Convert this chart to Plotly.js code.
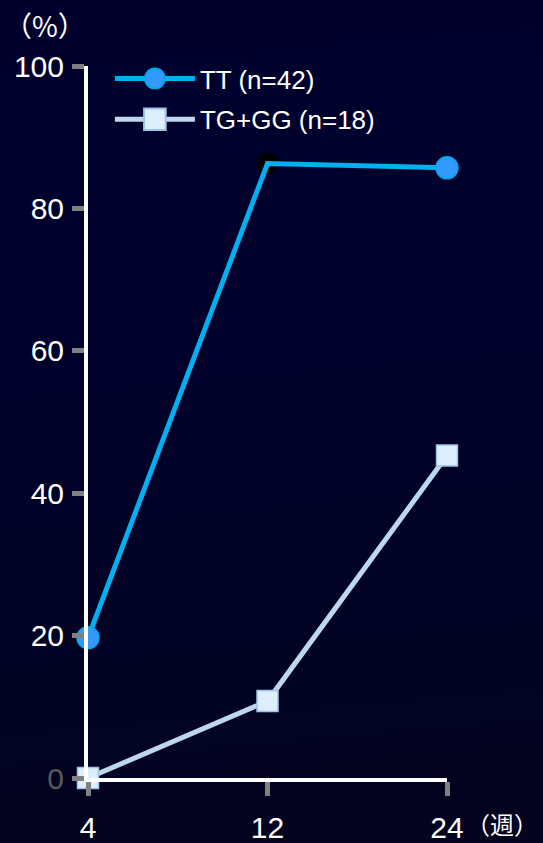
<!DOCTYPE html>
<html>
<head>
<meta charset="utf-8">
<script src="https://cdn.plot.ly/plotly-3.0.1.min.js"></script>
<style>
  html, body { margin: 0; padding: 0; }
  body {
    width: 543px; height: 843px; overflow: hidden;
    background: linear-gradient(175deg, #00002e 0%, #01012b 45%, #04041f 100%);
  }
  #chart { width: 543px; height: 843px; }
</style>
</head>
<body>
<div id="chart"></div>
<script>
// Response rate (%) by week, per genotype group
const weeks = ['4', '12', '24'];
const ttValues = [19.7, 86.3, 85.7];
const tgggValues = [0, 10.8, 45.3];
const seriesNames = ['TT (n=42)', 'TG+GG (n=18)'];
const yTickValues = [0, 20, 40, 60, 80, 100];

const xIdx = weeks.map((_, i) => i);
const labelFont = 'Liberation Sans, Arial, sans-serif';
const cjkFont = 'Noto Sans CJK JP, Noto Sans, sans-serif';

const traces = [
  {
    // dark dot under the TT line at week 12
    x: [xIdx[1]], y: [ttValues[1]],
    mode: 'markers', showlegend: false, hoverinfo: 'skip',
    marker: { symbol: 'circle', size: 22, color: '#000000', opacity: 1 },
    cliponaxis: false
  },
  {
    x: xIdx, y: ttValues, name: seriesNames[0],
    legendgroup: 'tt',
    mode: 'lines+markers',
    line: { color: '#00b0f0', width: 5 },
    marker: { symbol: 'circle', size: [22, 0, 22], color: '#3399ff', opacity: 1,
              line: { color: '#00a8ee', width: 1.5 } },
    cliponaxis: false
  },
  {
    x: xIdx, y: tgggValues, name: seriesNames[1],
    legendgroup: 'tggg',
    mode: 'lines+markers',
    line: { color: '#bdd7ee', width: 5 },
    marker: { symbol: 'square', size: 21, color: '#ddeeff', opacity: 1,
              line: { color: '#9dc3e6', width: 1.5 } },
    cliponaxis: false
  }
];

const layout = {
  width: 543, height: 843,
  margin: { l: 88, r: 96, t: 66, b: 65 },
  paper_bgcolor: 'rgba(0,0,0,0)',
  plot_bgcolor: 'rgba(0,0,0,0)',
  showlegend: true,
  legend: {
    x: 0.061, y: 1.0154, xanchor: 'left', yanchor: 'top',
    bgcolor: 'rgba(0,0,0,0)',
    font: { family: labelFont, size: 26, color: '#ffffff' },
    itemwidth: 80, tracegroupgap: 4, traceorder: 'grouped'
  },
  xaxis: {
    range: [0, 2],
    tickvals: xIdx, ticktext: weeks,
    showgrid: false, zeroline: false,
    showline: true, linecolor: '#ffffff', linewidth: 4,
    ticks: 'outside', ticklen: 14, tickwidth: 5, tickcolor: '#808080',
    tickfont: { family: labelFont, size: 30, color: '#ffffff' },
    ticklabelstandoff: 6,
    fixedrange: true
  },
  yaxis: {
    range: [0, 100],
    tickvals: yTickValues,
    ticktext: yTickValues.map(v => v === 0 ? '<span style="color:#595959">0</span>' : String(v)),
    showgrid: false, zeroline: false,
    showline: true, linecolor: '#ffffff', linewidth: 4,
    ticks: 'outside', ticklen: 12, tickwidth: 5, tickcolor: '#808080',
    tickfont: { family: labelFont, size: 30, color: '#ffffff' },
    ticklabelstandoff: 2,
    fixedrange: true
  },
  annotations: [
    {
      text: '（%）', xref: 'paper', yref: 'paper',
      x: 0, y: 1.0576, xanchor: 'left', yanchor: 'middle', xshift: -86,
      showarrow: false,
      font: { family: cjkFont, size: 28, color: '#ffffff' }
    },
    {
      text: '（週）', xref: 'paper', yref: 'paper',
      x: 1, y: -0.0646, xanchor: 'right', yanchor: 'middle', xshift: 93,
      showarrow: false,
      font: { family: cjkFont, size: 24, color: '#ffffff' }
    }
  ]
};

Plotly.newPlot('chart', traces, layout, { displayModeBar: false, staticPlot: true }).then(gd => {
  // enlarge the legend symbols to the size of the plotted markers
  gd.querySelectorAll('.legend .legendpoints path.scatterpts').forEach(p => {
    const t = p.getAttribute('transform') || '';
    p.setAttribute('transform', t + ' scale(1.35)');
  });
});
</script>
</body>
</html>
